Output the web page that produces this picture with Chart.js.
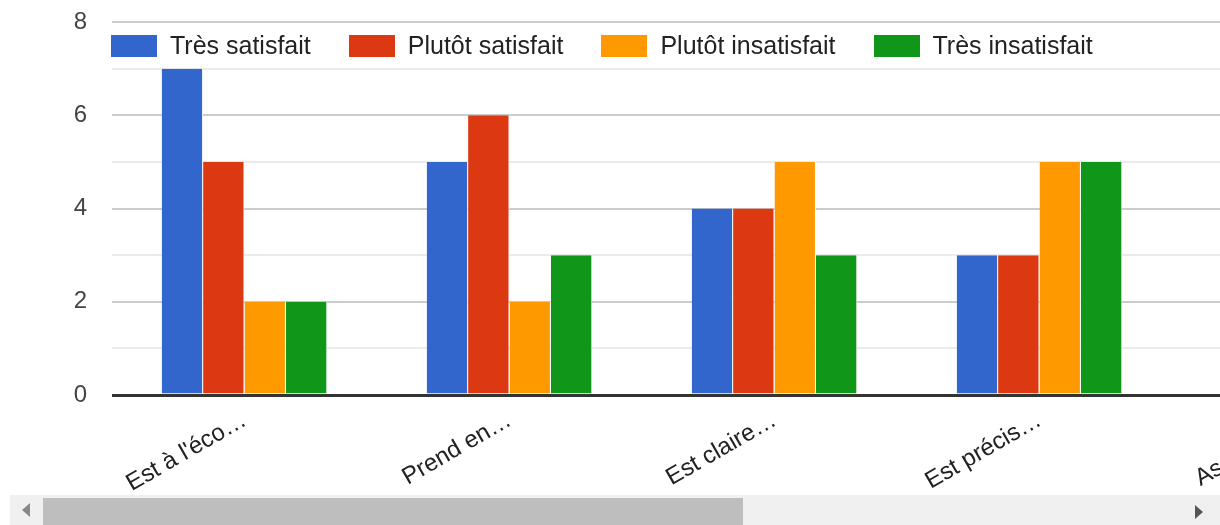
<!DOCTYPE html>
<html>
<head>
<meta charset="utf-8">
<script src="https://cdn.jsdelivr.net/npm/chart.js@4.4.0/dist/chart.umd.min.js"></script>
<style>
body { margin: 0; background: #fff; font-family: Arial, "Liberation Sans", sans-serif; }
#wrap { position: absolute; left: 0; top: 0; width: 1220px; height: 495px; overflow: hidden; }
#legend { position: absolute; left: 111px; top: 31px; display: flex; align-items: center; }
.item { display: flex; align-items: center; margin-right: 38px; font-size: 25px; color: #222; }
.box { width: 46px; height: 22px; margin-right: 13px; }
#track { position: absolute; left: 10px; top: 495px; width: 1210px; height: 30px; background: #f0f0f0; }
#thumb { position: absolute; left: 43px; top: 498px; width: 700px; height: 27px; background: #bebebe; }
#arrowL { position: absolute; left: 22px; top: 503px; width: 0; height: 0; border-top: 7px solid transparent; border-bottom: 7px solid transparent; border-right: 8px solid #888; }
#arrowR { position: absolute; left: 1195px; top: 505px; width: 0; height: 0; border-top: 7px solid transparent; border-bottom: 7px solid transparent; border-left: 8px solid #555; }
</style>
</head>
<body>
<div id="wrap">
    <canvas id="grafico" width="1437" height="495"></canvas>
    <div id="legend"></div>
</div>
<div id="track"></div>
<div id="thumb"></div>
<div id="arrowL"></div>
<div id="arrowR"></div>

<script>
// categories (labels truncated as in the form summary)
var categorias = ["Est à l'éco…", "Prend en…", "Est claire…", "Est précis…", "Assure la…"];

var tresSatisfait = [7, 5, 4, 3, null];
var plutotSatisfait = [5, 6, 4, 3, null];
var plutotInsatisfait = [2, 2, 5, 5, null];
var tresInsatisfait = [2, 3, 3, 5, null];

var nomsSeries = ['Très satisfait', 'Plutôt satisfait', 'Plutôt insatisfait', 'Très insatisfait'];
var couleurs = ['#3366cc', '#dc3912', '#ff9900', '#109618'];
var ticksY = [0, 2, 4, 6, 8];

var valeurs = [tresSatisfait, plutotSatisfait, plutotInsatisfait, tresInsatisfait];

var datasets = [];
for (let i = 0; i < nomsSeries.length; i++) {
    datasets.push({
        label: nomsSeries[i],
        data: valeurs[i],
        backgroundColor: couleurs[i],
        borderColor: '#ffffff',
        borderWidth: { left: 0, right: 1, top: 0, bottom: 0 },
        borderSkipped: false
    });
}

// legend in html, over the plot like the original
var legend = document.getElementById('legend');
for (let i = 0; i < nomsSeries.length; i++) {
    legend.innerHTML +=
        `<div class="item"><div class="box" style="background:${couleurs[i]}"></div>${nomsSeries[i]}</div>`;
}

Chart.defaults.font.family = 'Arial, "Liberation Sans", sans-serif';

var ctx = document.getElementById('grafico');
var myChart = new Chart(ctx, {
    type: 'bar',
    data: {
        labels: categorias,
        datasets: datasets
    },
    options: {
        responsive: false,
        animation: false,
        layout: {
            padding: { top: 22, right: 0, left: 2, bottom: 0 }
        },
        plugins: {
            legend: { display: false },
            tooltip: { enabled: false }
        },
        datasets: {
            bar: {
                barPercentage: 1,
                categoryPercentage: 0.625
            }
        },
        scales: {
            x: {
                grid: { display: false },
                border: { display: false },
                ticks: {
                    color: '#222',
                    font: { size: 24 },
                    maxRotation: 30,
                    minRotation: 30,
                    autoSkip: false,
                    padding: 3
                },
                afterFit: function (s) {
                    s.height = 100;
                    s.paddingLeft = 0;
                    s.paddingRight = 0;
                }
            },
            y: {
                min: 0,
                max: 8,
                border: { display: false },
                grid: {
                    drawTicks: false,
                    color: function (c) {
                        if (c.tick.value == 0) return '#333';
                        return c.tick.value % 2 == 0 ? '#cccccc' : '#ebebeb';
                    },
                    lineWidth: function (c) {
                        return c.tick.value == 0 ? 3 : 2;
                    }
                },
                ticks: {
                    stepSize: 1,
                    color: '#444',
                    font: { size: 24 },
                    padding: 25,
                    callback: function (v) {
                        return ticksY.includes(v) ? v : '';
                    }
                },
                afterFit: function (s) {
                    s.width = 110;
                    s.paddingTop = 0;
                    s.paddingBottom = 0;
                }
            }
        }
    }
});
</script>
</body>
</html>
